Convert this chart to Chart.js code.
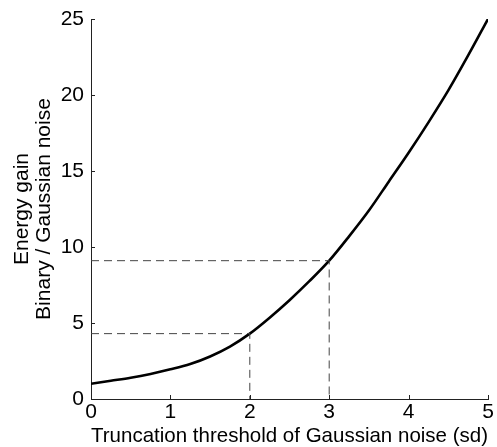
<!DOCTYPE html>
<html>
<head>
<meta charset="utf-8">
<script src="https://cdn.jsdelivr.net/npm/chart.js@4/dist/chart.umd.min.js"></script>
<style>
html,body{margin:0;padding:0;background:#fff;}
canvas{display:block;}
</style>
</head>
<body>
<canvas id="c" width="497" height="447"></canvas>
<script>
// Data
const thresholds = [0, 0.25, 0.5, 0.75, 1, 1.25, 1.5, 1.75, 2, 2.25, 2.5, 2.75, 3, 3.25, 3.5, 3.75, 4, 4.25, 4.5, 4.75, 5];
const energyGain = [1.0, 1.2, 1.4, 1.65, 1.95, 2.3, 2.8, 3.45, 4.3, 5.35, 6.5, 7.75, 9.1, 10.7, 12.4, 14.3, 16.2, 18.2, 20.3, 22.6, 25];
const markerA = [[0, 4.3], [2, 4.3], [2, 0]];
const markerB = [[0, 9.1], [3, 9.1], [3, 0]];
const xTicks = [0, 1, 2, 3, 4, 5];
const yTicks = [0, 5, 10, 15, 20, 25];
const xTitle = 'Truncation threshold of Gaussian noise (sd)';
const yTitle = ['Energy gain', 'Binary / Gaussian noise'];

const FONT = 'Liberation Sans, Arial, Helvetica, sans-serif';
const FS = 21;

const toPts = arr => arr.map(p => ({x: p[0], y: p[1]}));

const innerTicks = {
  id: 'innerTicks',
  afterDraw(chart) {
    const ctx = chart.ctx;
    const xs = chart.scales.x, ys = chart.scales.y;
    const L = 4;
    ctx.save();
    ctx.strokeStyle = '#222';
    ctx.lineWidth = 1;
    ctx.beginPath();
    xTicks.forEach(v => {
      const px = Math.round(xs.getPixelForValue(v)) + 0.5;
      const py = ys.getPixelForValue(0);
      ctx.moveTo(px, py); ctx.lineTo(px, py - L);
    });
    yTicks.forEach(v => {
      const py = Math.round(ys.getPixelForValue(v)) + 0.5;
      const px = xs.getPixelForValue(0);
      ctx.moveTo(px, py); ctx.lineTo(px + L, py);
    });
    ctx.stroke();
    ctx.restore();
  }
};

new Chart(document.getElementById('c'), {
  type: 'scatter',
  data: {
    datasets: [
      {
        data: toPts(markerA), showLine: true, borderColor: '#444', borderWidth: 1,
        borderDash: [8, 5], pointRadius: 0, tension: 0
      },
      {
        data: toPts(markerB), showLine: true, borderColor: '#444', borderWidth: 1,
        borderDash: [8, 5], pointRadius: 0, tension: 0
      },
      {
        data: thresholds.map((t, i) => ({x: t, y: energyGain[i]})),
        showLine: true, borderColor: '#000', borderWidth: 2.6,
        pointRadius: 0, cubicInterpolationMode: 'monotone'
      }
    ]
  },
  options: {
    responsive: false,
    animation: false,
    devicePixelRatio: 1,
    layout: {padding: {top: 19, right: 9, left: 0, bottom: 0}},
    plugins: {legend: {display: false}, tooltip: {enabled: false}},
    scales: {
      x: {
        type: 'linear', min: 0, max: 5,
        afterBuildTicks: s => { s.ticks = xTicks.map(v => ({value: v})); },
        afterFit: s => { s.height = 48; },
        grid: {display: true, drawOnChartArea: false, drawTicks: false, color: '#222'},
        border: {display: true, color: '#222', width: 1},
        ticks: {color: '#000', font: {family: FONT, size: FS, lineHeight: 1.0}, padding: 3, maxRotation: 0},
        title: {display: true, text: xTitle, color: '#000', font: {family: FONT, size: FS, lineHeight: 1.0}, padding: {top: 0, bottom: 0}}
      },
      y: {
        type: 'linear', min: 0, max: 25,
        afterBuildTicks: s => { s.ticks = yTicks.map(v => ({value: v})); },
        afterFit: s => { s.width = 91; },
        grid: {display: true, drawOnChartArea: false, drawTicks: false, color: '#222'},
        border: {display: true, color: '#222', width: 1},
        ticks: {color: '#000', font: {family: FONT, size: FS, lineHeight: 1.0}, padding: 7},
        title: {display: true, text: yTitle, color: '#000', font: {family: FONT, size: FS, lineHeight: 1.05}, padding: {top: 11, bottom: 0}}
      }
    }
  },
  plugins: [innerTicks]
});
</script>
</body>
</html>
